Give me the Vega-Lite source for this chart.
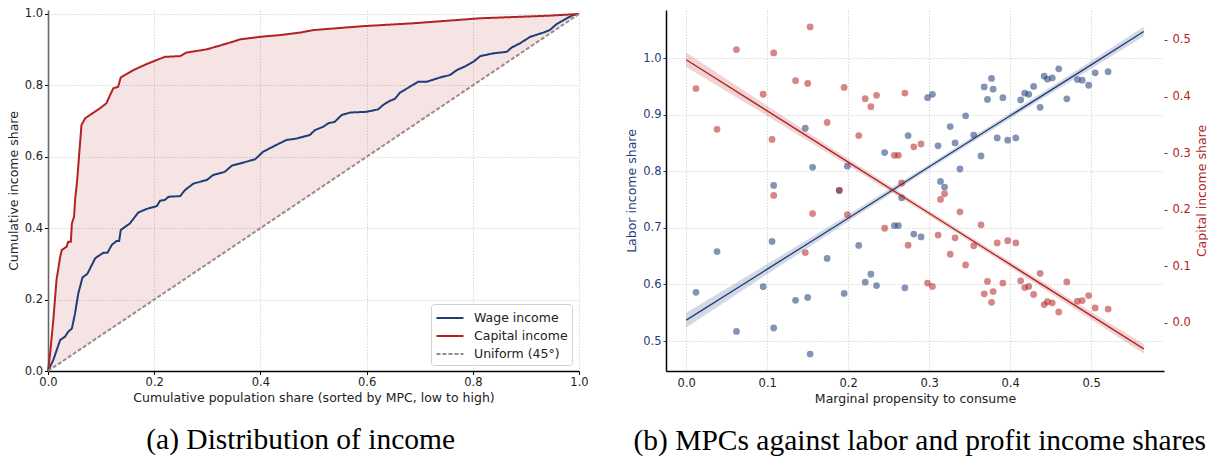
{
  "$schema": "https://vega.github.io/schema/vega-lite/v6.json",
  "padding": {"left": 7, "top": 7, "right": 0, "bottom": 0},
  "spacing": 87,
  "bounds": "flush",
  "config": {
    "view": {"stroke": null},
    "font": "DejaVu Sans",
    "axis": {"labelFont": "DejaVu Sans", "titleFont": "DejaVu Sans", "labelFontSize": 11.5, "titleFontSize": 12.5, "titleFontWeight": "normal", "labelColor": "#222222", "titleColor": "#222222", "gridColor": "#cfcfcf", "gridDash": [1.5, 1.5], "gridWidth": 0.8, "labelFlush": false, "labelOverlap": false}
  },
  "datasets": {
    "lorenz": [
      {"s": "Wage income", "x": 0, "y": 0},
      {"s": "Wage income", "x": 0.010, "y": 0.031},
      {"s": "Wage income", "x": 0.023, "y": 0.087},
      {"s": "Wage income", "x": 0.032, "y": 0.096},
      {"s": "Wage income", "x": 0.038, "y": 0.110},
      {"s": "Wage income", "x": 0.045, "y": 0.119},
      {"s": "Wage income", "x": 0.051, "y": 0.162},
      {"s": "Wage income", "x": 0.057, "y": 0.217},
      {"s": "Wage income", "x": 0.065, "y": 0.262},
      {"s": "Wage income", "x": 0.074, "y": 0.272},
      {"s": "Wage income", "x": 0.089, "y": 0.316},
      {"s": "Wage income", "x": 0.104, "y": 0.331},
      {"s": "Wage income", "x": 0.112, "y": 0.331},
      {"s": "Wage income", "x": 0.120, "y": 0.353},
      {"s": "Wage income", "x": 0.129, "y": 0.364},
      {"s": "Wage income", "x": 0.134, "y": 0.364},
      {"s": "Wage income", "x": 0.137, "y": 0.395},
      {"s": "Wage income", "x": 0.154, "y": 0.413},
      {"s": "Wage income", "x": 0.170, "y": 0.444},
      {"s": "Wage income", "x": 0.186, "y": 0.454},
      {"s": "Wage income", "x": 0.205, "y": 0.462},
      {"s": "Wage income", "x": 0.211, "y": 0.477},
      {"s": "Wage income", "x": 0.220, "y": 0.479},
      {"s": "Wage income", "x": 0.227, "y": 0.488},
      {"s": "Wage income", "x": 0.249, "y": 0.490},
      {"s": "Wage income", "x": 0.258, "y": 0.507},
      {"s": "Wage income", "x": 0.274, "y": 0.525},
      {"s": "Wage income", "x": 0.299, "y": 0.535},
      {"s": "Wage income", "x": 0.311, "y": 0.549},
      {"s": "Wage income", "x": 0.333, "y": 0.558},
      {"s": "Wage income", "x": 0.346, "y": 0.575},
      {"s": "Wage income", "x": 0.368, "y": 0.584},
      {"s": "Wage income", "x": 0.390, "y": 0.593},
      {"s": "Wage income", "x": 0.405, "y": 0.614},
      {"s": "Wage income", "x": 0.427, "y": 0.631},
      {"s": "Wage income", "x": 0.449, "y": 0.647},
      {"s": "Wage income", "x": 0.468, "y": 0.651},
      {"s": "Wage income", "x": 0.493, "y": 0.661},
      {"s": "Wage income", "x": 0.503, "y": 0.675},
      {"s": "Wage income", "x": 0.518, "y": 0.684},
      {"s": "Wage income", "x": 0.528, "y": 0.694},
      {"s": "Wage income", "x": 0.540, "y": 0.698},
      {"s": "Wage income", "x": 0.553, "y": 0.717},
      {"s": "Wage income", "x": 0.569, "y": 0.724},
      {"s": "Wage income", "x": 0.600, "y": 0.726},
      {"s": "Wage income", "x": 0.622, "y": 0.733},
      {"s": "Wage income", "x": 0.631, "y": 0.745},
      {"s": "Wage income", "x": 0.644, "y": 0.757},
      {"s": "Wage income", "x": 0.653, "y": 0.762},
      {"s": "Wage income", "x": 0.663, "y": 0.780},
      {"s": "Wage income", "x": 0.679, "y": 0.794},
      {"s": "Wage income", "x": 0.697, "y": 0.810},
      {"s": "Wage income", "x": 0.713, "y": 0.810},
      {"s": "Wage income", "x": 0.738, "y": 0.822},
      {"s": "Wage income", "x": 0.757, "y": 0.829},
      {"s": "Wage income", "x": 0.770, "y": 0.843},
      {"s": "Wage income", "x": 0.785, "y": 0.853},
      {"s": "Wage income", "x": 0.801, "y": 0.866},
      {"s": "Wage income", "x": 0.814, "y": 0.882},
      {"s": "Wage income", "x": 0.839, "y": 0.890},
      {"s": "Wage income", "x": 0.864, "y": 0.894},
      {"s": "Wage income", "x": 0.873, "y": 0.906},
      {"s": "Wage income", "x": 0.889, "y": 0.918},
      {"s": "Wage income", "x": 0.908, "y": 0.936},
      {"s": "Wage income", "x": 0.933, "y": 0.948},
      {"s": "Wage income", "x": 0.945, "y": 0.955},
      {"s": "Wage income", "x": 0.958, "y": 0.972},
      {"s": "Wage income", "x": 0.977, "y": 0.988},
      {"s": "Wage income", "x": 0.989, "y": 0.997},
      {"s": "Wage income", "x": 1, "y": 1},
      {"s": "Capital income", "x": 0, "y": 0, "d": 0},
      {"s": "Capital income", "x": 0.004, "y": 0.049, "d": 0.004},
      {"s": "Capital income", "x": 0.010, "y": 0.143, "d": 0.010},
      {"s": "Capital income", "x": 0.016, "y": 0.255, "d": 0.016},
      {"s": "Capital income", "x": 0.023, "y": 0.320, "d": 0.023},
      {"s": "Capital income", "x": 0.026, "y": 0.339, "d": 0.026},
      {"s": "Capital income", "x": 0.035, "y": 0.348, "d": 0.035},
      {"s": "Capital income", "x": 0.038, "y": 0.362, "d": 0.038},
      {"s": "Capital income", "x": 0.043, "y": 0.362, "d": 0.043},
      {"s": "Capital income", "x": 0.045, "y": 0.413, "d": 0.045},
      {"s": "Capital income", "x": 0.049, "y": 0.432, "d": 0.049},
      {"s": "Capital income", "x": 0.051, "y": 0.479, "d": 0.051},
      {"s": "Capital income", "x": 0.055, "y": 0.535, "d": 0.055},
      {"s": "Capital income", "x": 0.063, "y": 0.689, "d": 0.063},
      {"s": "Capital income", "x": 0.070, "y": 0.708, "d": 0.070},
      {"s": "Capital income", "x": 0.098, "y": 0.736, "d": 0.098},
      {"s": "Capital income", "x": 0.110, "y": 0.750, "d": 0.110},
      {"s": "Capital income", "x": 0.117, "y": 0.773, "d": 0.117},
      {"s": "Capital income", "x": 0.123, "y": 0.792, "d": 0.123},
      {"s": "Capital income", "x": 0.132, "y": 0.796, "d": 0.132},
      {"s": "Capital income", "x": 0.137, "y": 0.822, "d": 0.137},
      {"s": "Capital income", "x": 0.161, "y": 0.843, "d": 0.161},
      {"s": "Capital income", "x": 0.186, "y": 0.860, "d": 0.186},
      {"s": "Capital income", "x": 0.220, "y": 0.880, "d": 0.220},
      {"s": "Capital income", "x": 0.249, "y": 0.882, "d": 0.249},
      {"s": "Capital income", "x": 0.261, "y": 0.892, "d": 0.261},
      {"s": "Capital income", "x": 0.299, "y": 0.901, "d": 0.299},
      {"s": "Capital income", "x": 0.343, "y": 0.920, "d": 0.343},
      {"s": "Capital income", "x": 0.362, "y": 0.929, "d": 0.362},
      {"s": "Capital income", "x": 0.399, "y": 0.936, "d": 0.399},
      {"s": "Capital income", "x": 0.437, "y": 0.941, "d": 0.437},
      {"s": "Capital income", "x": 0.475, "y": 0.948, "d": 0.475},
      {"s": "Capital income", "x": 0.500, "y": 0.955, "d": 0.500},
      {"s": "Capital income", "x": 0.594, "y": 0.966, "d": 0.594},
      {"s": "Capital income", "x": 0.688, "y": 0.974, "d": 0.688},
      {"s": "Capital income", "x": 0.814, "y": 0.988, "d": 0.814},
      {"s": "Capital income", "x": 0.939, "y": 0.995, "d": 0.939},
      {"s": "Capital income", "x": 1, "y": 1, "d": 1},
      {"s": "Uniform (45°)", "x": 0, "y": 0},
      {"s": "Uniform (45°)", "x": 1, "y": 1}
    ],
    "pts": [
      {"x": 0.012, "labor": 0.586, "capital": 0.414},
      {"x": 0.038, "labor": 0.658, "capital": 0.342},
      {"x": 0.062, "labor": 0.517, "capital": 0.483},
      {"x": 0.095, "labor": 0.596, "capital": 0.404},
      {"x": 0.106, "labor": 0.676, "capital": 0.324},
      {"x": 0.108, "labor": 0.523, "capital": 0.477},
      {"x": 0.108, "labor": 0.775, "capital": 0.225},
      {"x": 0.135, "labor": 0.572, "capital": 0.428},
      {"x": 0.147, "labor": 0.876, "capital": 0.124},
      {"x": 0.150, "labor": 0.577, "capital": 0.423},
      {"x": 0.153, "labor": 0.477, "capital": 0.523},
      {"x": 0.156, "labor": 0.807, "capital": 0.193},
      {"x": 0.174, "labor": 0.646, "capital": 0.354},
      {"x": 0.189, "labor": 0.766, "capital": 0.234},
      {"x": 0.195, "labor": 0.584, "capital": 0.416},
      {"x": 0.199, "labor": 0.809, "capital": 0.191},
      {"x": 0.213, "labor": 0.669, "capital": 0.331},
      {"x": 0.221, "labor": 0.604, "capital": 0.396},
      {"x": 0.228, "labor": 0.618, "capital": 0.382},
      {"x": 0.235, "labor": 0.598, "capital": 0.402},
      {"x": 0.245, "labor": 0.833, "capital": 0.167},
      {"x": 0.257, "labor": 0.704, "capital": 0.296},
      {"x": 0.262, "labor": 0.704, "capital": 0.296},
      {"x": 0.266, "labor": 0.753, "capital": 0.247},
      {"x": 0.270, "labor": 0.594, "capital": 0.406},
      {"x": 0.274, "labor": 0.863, "capital": 0.137},
      {"x": 0.281, "labor": 0.689, "capital": 0.311},
      {"x": 0.290, "labor": 0.684, "capital": 0.316},
      {"x": 0.298, "labor": 0.930, "capital": 0.070},
      {"x": 0.304, "labor": 0.936, "capital": 0.064},
      {"x": 0.311, "labor": 0.845, "capital": 0.155},
      {"x": 0.314, "labor": 0.782, "capital": 0.218},
      {"x": 0.319, "labor": 0.772, "capital": 0.228},
      {"x": 0.326, "labor": 0.879, "capital": 0.121},
      {"x": 0.332, "labor": 0.850, "capital": 0.150},
      {"x": 0.338, "labor": 0.804, "capital": 0.196},
      {"x": 0.345, "labor": 0.898, "capital": 0.102},
      {"x": 0.355, "labor": 0.864, "capital": 0.136},
      {"x": 0.364, "labor": 0.827, "capital": 0.173},
      {"x": 0.368, "labor": 0.949, "capital": 0.051},
      {"x": 0.372, "labor": 0.927, "capital": 0.073},
      {"x": 0.377, "labor": 0.964, "capital": 0.036},
      {"x": 0.379, "labor": 0.945, "capital": 0.055},
      {"x": 0.384, "labor": 0.859, "capital": 0.141},
      {"x": 0.391, "labor": 0.930, "capital": 0.070},
      {"x": 0.397, "labor": 0.855, "capital": 0.145},
      {"x": 0.407, "labor": 0.859, "capital": 0.141},
      {"x": 0.413, "labor": 0.926, "capital": 0.074},
      {"x": 0.418, "labor": 0.938, "capital": 0.062},
      {"x": 0.423, "labor": 0.936, "capital": 0.064},
      {"x": 0.429, "labor": 0.950, "capital": 0.050},
      {"x": 0.437, "labor": 0.913, "capital": 0.087},
      {"x": 0.442, "labor": 0.968, "capital": 0.032},
      {"x": 0.446, "labor": 0.963, "capital": 0.037},
      {"x": 0.452, "labor": 0.965, "capital": 0.035},
      {"x": 0.460, "labor": 0.981, "capital": 0.019},
      {"x": 0.470, "labor": 0.928, "capital": 0.072},
      {"x": 0.483, "labor": 0.962, "capital": 0.038},
      {"x": 0.489, "labor": 0.961, "capital": 0.039},
      {"x": 0.497, "labor": 0.952, "capital": 0.048},
      {"x": 0.505, "labor": 0.974, "capital": 0.026},
      {"x": 0.521, "labor": 0.976, "capital": 0.024}
    ],
    "fit": [
      {"x": 0, "lf": 0.537, "llo": 0.524, "lhi": 0.550, "cf": 0.465, "clo": 0.452, "chi": 0.478},
      {"x": 0.1, "lf": 0.627, "llo": 0.618, "lhi": 0.636, "cf": 0.3745, "clo": 0.3655, "chi": 0.3835},
      {"x": 0.2, "lf": 0.717, "llo": 0.711, "lhi": 0.723, "cf": 0.284, "clo": 0.278, "chi": 0.290},
      {"x": 0.3, "lf": 0.808, "llo": 0.8035, "lhi": 0.8125, "cf": 0.1935, "clo": 0.189, "chi": 0.198},
      {"x": 0.4, "lf": 0.898, "llo": 0.893, "lhi": 0.903, "cf": 0.103, "clo": 0.098, "chi": 0.108},
      {"x": 0.5, "lf": 0.988, "llo": 0.981, "lhi": 0.995, "cf": 0.0125, "clo": 0.0055, "chi": 0.0195},
      {"x": 0.565, "lf": 1.047, "llo": 1.0385, "lhi": 1.0555, "cf": -0.0463, "clo": -0.0548, "chi": -0.0378}
    ]
  },
  "hconcat": [
    {
      "width": 531,
      "height": 361,
      "title": {"text": "(a) Distribution of income", "orient": "bottom", "anchor": "middle", "frame": "bounds", "font": "Liberation Serif", "fontSize": 29.5, "fontWeight": "normal", "color": "#000000", "offset": 22, "dx": 3},
      "data": {"name": "lorenz"},
      "encoding": {
        "x": {"field": "x", "type": "quantitative", "scale": {"domain": [0, 1], "nice": false, "zero": false},
          "axis": {"title": "Cumulative population share (sorted by MPC, low to high)", "values": [0, 0.2, 0.4, 0.6, 0.8, 1], "format": ".1f", "grid": true, "domainColor": "#000000", "domainWidth": 1.3, "tickColor": "#000000", "tickSize": 3.5, "labelPadding": 2, "titlePadding": 3}},
        "y": {"field": "y", "type": "quantitative", "scale": {"domain": [0, 1.0112], "nice": false, "zero": false},
          "axis": {"title": "Cumulative income share", "values": [0, 0.2, 0.4, 0.6, 0.8, 1], "format": ".1f", "grid": true, "domainColor": "#666666", "domainWidth": 1.6, "tickColor": "#000000", "tickSize": 3.5, "labelPadding": 2, "titlePadding": 4}}
      },
      "layer": [
        {
          "transform": [{"filter": "datum.s === 'Capital income'"}],
          "mark": {"type": "area", "color": "#b22222", "opacity": 0.12},
          "encoding": {"y2": {"field": "d"}}
        },
        {
          "mark": {"type": "line"},
          "encoding": {
            "color": {"field": "s", "type": "nominal", "scale": {"domain": ["Wage income", "Capital income", "Uniform (45°)"], "range": ["#1f3d7a", "#b22222", "#9a8a8a"]},
              "legend": {"orient": "none", "legendX": 383, "legendY": 294, "title": null, "padding": 4, "fillColor": "#ffffff", "strokeColor": "#d0d0d0", "cornerRadius": 3, "labelFontSize": 12.5, "labelFont": "DejaVu Sans", "labelColor": "#222222", "symbolType": "M-1.5,0H1.5", "symbolSize": 324, "symbolStrokeWidth": 2, "symbolOffset": 5, "labelOffset": 14, "rowPadding": 1}},
            "strokeDash": {"field": "s", "type": "nominal", "scale": {"domain": ["Wage income", "Capital income", "Uniform (45°)"], "range": [[1, 0], [1, 0], [4, 2]]},
              "legend": {"orient": "none", "legendX": 383, "legendY": 294, "title": null}},
            "strokeWidth": {"field": "s", "type": "nominal", "scale": {"domain": ["Wage income", "Capital income", "Uniform (45°)"], "range": [2, 2, 1]}, "legend": null}
          }
        }
      ]
    },
    {
      "width": 498,
      "height": 361,
      "title": {"text": "(b) MPCs against labor and profit income shares", "orient": "bottom", "anchor": "middle", "frame": "bounds", "font": "Liberation Serif", "fontSize": 29.5, "fontWeight": "normal", "color": "#000000", "offset": 22, "dx": 3},
      "encoding": {
        "x": {"field": "x", "type": "quantitative", "scale": {"domain": [-0.025, 0.59], "nice": false, "zero": false},
          "axis": {"title": "Marginal propensity to consume", "values": [0, 0.1, 0.2, 0.3, 0.4, 0.5], "format": ".1f", "grid": true, "domainColor": "#000000", "domainWidth": 1.5, "ticks": false, "labelPadding": 6, "titlePadding": 4}}
      },
      "layer": [
        {
          "layer": [
            {
              "data": {"name": "fit"},
              "mark": {"type": "area", "color": "#1f3d7a", "opacity": 0.2},
              "encoding": {
                "y": {"field": "llo", "type": "quantitative", "scale": {"domain": [0.447, 1.085], "nice": false, "zero": false},
                  "axis": {"title": "Labor income share", "values": [0.5, 0.6, 0.7, 0.8, 0.9, 1.0], "format": ".1f", "grid": true, "domainColor": "#000000", "domainWidth": 1.5, "tickColor": "#1f3d7a", "tickSize": 3, "labelColor": "#1f3d7a", "titleColor": "#1f3d7a", "labelPadding": 2, "titlePadding": 4}},
                "y2": {"field": "lhi"}
              }
            },
            {
              "data": {"name": "fit"},
              "mark": {"type": "line", "color": "#1f3d7a", "strokeWidth": 1.3},
              "encoding": {"y": {"field": "lf", "type": "quantitative"}}
            },
            {
              "data": {"name": "pts"},
              "mark": {"type": "circle", "color": "#1f3d7a", "opacity": 0.55, "size": 46},
              "encoding": {"y": {"field": "labor", "type": "quantitative"}}
            }
          ]
        },
        {
          "layer": [
            {
              "data": {"name": "fit"},
              "mark": {"type": "area", "color": "#b22222", "opacity": 0.2},
              "encoding": {
                "y": {"field": "clo", "type": "quantitative", "scale": {"domain": [-0.0855, 0.553], "nice": false, "zero": false},
                  "axis": {"orient": "right", "title": "Capital income share", "titleAngle": 270, "titleBaseline": "top", "values": [0, 0.1, 0.2, 0.3, 0.4, 0.5], "format": ".1f", "grid": false, "domain": false, "tickColor": "#b22222", "tickSize": 3, "tickOffset": 0, "labelColor": "#b22222", "titleColor": "#b22222", "labelPadding": 5, "titlePadding": 5}},
                "y2": {"field": "chi"}
              }
            },
            {
              "data": {"name": "fit"},
              "mark": {"type": "line", "color": "#b22222", "strokeWidth": 1.3},
              "encoding": {"y": {"field": "cf", "type": "quantitative"}}
            },
            {
              "data": {"name": "pts"},
              "mark": {"type": "circle", "color": "#b22222", "opacity": 0.55, "size": 46},
              "encoding": {"y": {"field": "capital", "type": "quantitative"}}
            }
          ]
        }
      ],
      "resolve": {"scale": {"y": "independent"}}
    }
  ]
}
